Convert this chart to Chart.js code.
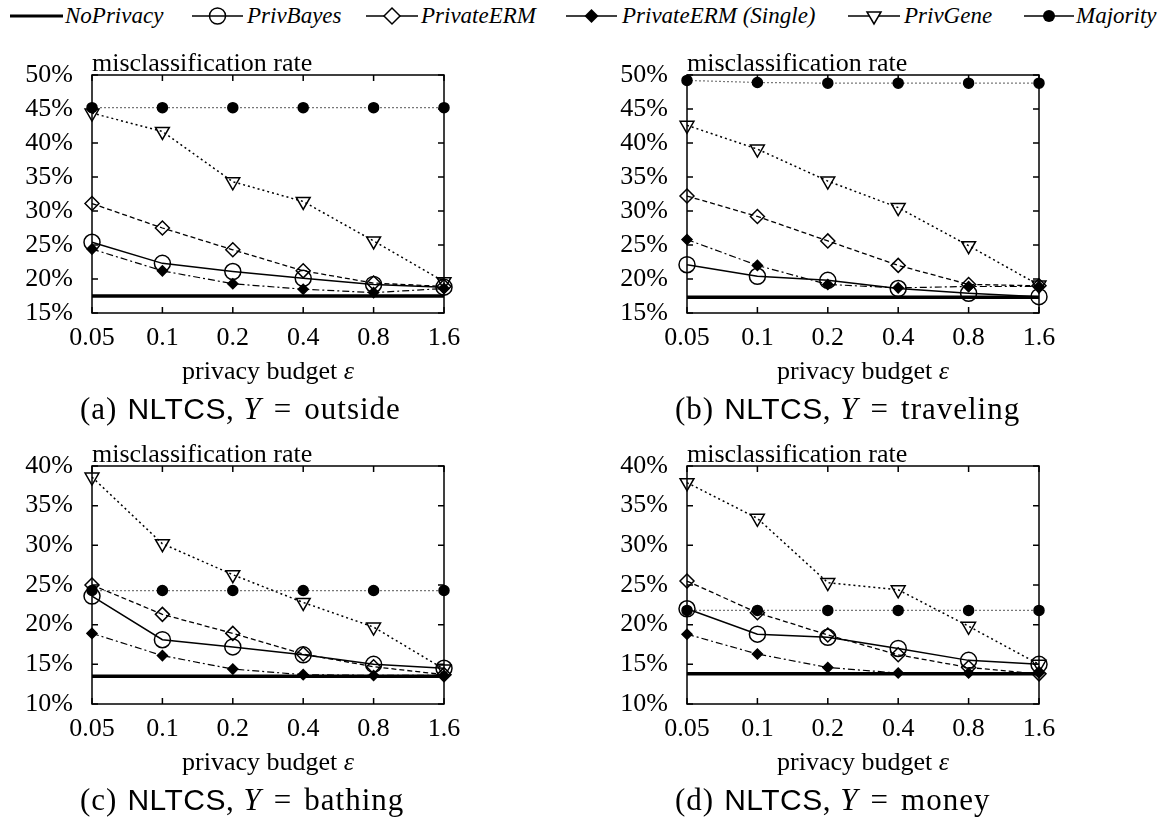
<!DOCTYPE html>
<html>
<head>
<meta charset="utf-8">
<script src="https://cdn.jsdelivr.net/npm/chart.js@4.4.1/dist/chart.umd.min.js"></script>
<style>
    body { margin: 0; background: #fff; width: 1176px; height: 822px; position: relative; overflow: hidden;
           font-family: "Liberation Serif", "Times New Roman", serif; color: #000; }
    canvas.panel { position: absolute; }
    .ytitle { position: absolute; font-size: 26px; line-height: 1; white-space: nowrap; }
    .xtitle { position: absolute; font-size: 26px; line-height: 1; width: 352px; text-align: center; white-space: nowrap; }
    .caption { position: absolute; font-size: 31px; line-height: 1; white-space: nowrap; letter-spacing: 1px; }
    .caption .sans { font-family: "Liberation Sans", sans-serif; font-size: 30px; letter-spacing: 0.5px; margin-left: 10px; }
    .caption .eq { margin: 0 12px; }
    .legend-text { position: absolute; top: 4px; font-size: 23px; font-style: italic; line-height: 1; white-space: nowrap; }
    .legend-icon { position: absolute; top: 0; }
</style>
</head>
<body>
<div id="legend"></div>

<script>
// x axis: privacy budget epsilon
const epsLabels = ['0.05', '0.1', '0.2', '0.4', '0.8', '1.6'];
const seriesNames = ['NoPrivacy', 'PrivBayes', 'PrivateERM', 'PrivateERM (Single)', 'PrivGene', 'Majority'];

// (a) Y = outside
const outsideNoPrivacy = [17.5, 17.5, 17.5, 17.5, 17.5, 17.5];
const outsidePrivBayes = [25.4, 22.3, 21.1, 20.1, 19.2, 18.8];
const outsidePrivateERM = [31.1, 27.5, 24.3, 21.2, 19.4, 18.9];
const outsideSingle = [24.4, 21.2, 19.3, 18.5, 18.0, 18.6];
const outsidePrivGene = [44.4, 41.7, 34.3, 31.4, 25.6, 19.6];
const outsideMajority = [45.2, 45.2, 45.2, 45.2, 45.2, 45.2];

// (b) Y = traveling
const travelingNoPrivacy = [17.3, 17.3, 17.3, 17.3, 17.3, 17.3];
const travelingPrivBayes = [22.1, 20.4, 19.8, 18.6, 17.9, 17.4];
const travelingPrivateERM = [32.2, 29.2, 25.6, 22.0, 19.2, 19.0];
const travelingSingle = [25.8, 22.0, 19.2, 18.7, 18.9, 18.9];
const travelingPrivGene = [42.6, 39.1, 34.4, 30.5, 24.9, 19.1];
const travelingMajority = [49.2, 48.9, 48.8, 48.8, 48.8, 48.8];

// (c) Y = bathing
const bathingNoPrivacy = [13.5, 13.5, 13.5, 13.5, 13.5, 13.5];
const bathingPrivBayes = [23.6, 18.1, 17.2, 16.2, 15.0, 14.5];
const bathingPrivateERM = [25.0, 21.3, 18.9, 16.3, 14.7, 13.7];
const bathingSingle = [18.9, 16.1, 14.4, 13.7, 13.6, 13.6];
const bathingPrivGene = [38.6, 30.2, 26.3, 22.8, 19.7, 14.4];
const bathingMajority = [24.3, 24.3, 24.3, 24.3, 24.3, 24.3];

// (d) Y = money
const moneyNoPrivacy = [13.8, 13.8, 13.8, 13.8, 13.8, 13.8];
const moneyPrivBayes = [22.0, 18.8, 18.4, 17.0, 15.5, 15.0];
const moneyPrivateERM = [25.5, 21.5, 18.7, 16.2, 14.6, 13.8];
const moneySingle = [18.8, 16.3, 14.6, 13.9, 13.9, 13.9];
const moneyPrivGene = [37.9, 33.4, 25.3, 24.4, 19.8, 15.0];
const moneyMajority = [21.8, 21.8, 21.8, 21.8, 21.8, 21.8];

const lineStyles = [
    { borderWidth: 3.5, borderDash: [], borderColor: '#000', pointRadius: 0, pointStyle: 'circle', fill: 'rgba(0,0,0,0)' },
    { borderWidth: 1.5, borderDash: [], borderColor: '#000', pointRadius: 8, pointStyle: 'circle', fill: 'rgba(0,0,0,0)' },
    { borderWidth: 1.3, borderDash: [5, 3], borderColor: '#000', pointRadius: 7, pointStyle: 'rectRot', fill: 'rgba(0,0,0,0)' },
    { borderWidth: 1.2, borderDash: [7, 3, 2, 3], borderColor: '#000', pointRadius: 5, pointStyle: 'rectRot', fill: '#000' },
    { borderWidth: 1.5, borderDash: [2, 3], borderColor: '#000', pointRadius: 8, pointStyle: 'triangle', rotation: 180, fill: 'rgba(0,0,0,0)' },
    { borderWidth: 1.2, borderDash: [2, 2], borderColor: '#777', pointRadius: 5, pointStyle: 'circle', fill: '#000' }
];

// box with inward tick marks on all four sides
const framePlugin = {
    id: 'frame',
    beforeDatasetsDraw(chart) {
        const { ctx, chartArea: a, scales } = chart;
        const tick = 6;
        ctx.save();
        ctx.strokeStyle = '#000';
        ctx.lineWidth = 1.5;
        ctx.strokeRect(a.left, a.top, a.right - a.left, a.bottom - a.top);
        ctx.beginPath();
        scales.x.ticks.forEach((t, i) => {
            const px = scales.x.getPixelForTick(i);
            ctx.moveTo(px, a.bottom); ctx.lineTo(px, a.bottom - tick);
            ctx.moveTo(px, a.top); ctx.lineTo(px, a.top + tick);
        });
        scales.y.ticks.forEach((t, i) => {
            const py = scales.y.getPixelForTick(i);
            ctx.moveTo(a.left, py); ctx.lineTo(a.left + tick, py);
            ctx.moveTo(a.right, py); ctx.lineTo(a.right - tick, py);
        });
        ctx.stroke();
        ctx.restore();
    }
};

function addText(cls, html, left, top) {
    const d = document.createElement('div');
    d.className = cls;
    d.innerHTML = html;
    d.style.left = left + 'px';
    d.style.top = top + 'px';
    document.body.appendChild(d);
}

function makePanel(left, top, series, yMin, yMax, caption) {
    const canvas = document.createElement('canvas');
    canvas.className = 'panel';
    canvas.width = 480;
    canvas.height = 320;
    canvas.style.left = left + 'px';
    canvas.style.top = top + 'px';
    document.body.appendChild(canvas);

    const datasets = series.map((data, i) => {
        const s = lineStyles[i];
        return {
            label: seriesNames[i],
            data: data,
            borderColor: s.borderColor,
            borderWidth: s.borderWidth,
            borderDash: s.borderDash,
            pointStyle: s.pointStyle,
            pointRadius: s.pointRadius,
            rotation: s.rotation || 0,
            pointBorderColor: '#000',
            pointBorderWidth: 1.5,
            pointBackgroundColor: s.fill,
            tension: 0,
            clip: false
        };
    });

    new Chart(canvas, {
        type: 'line',
        data: { labels: epsLabels, datasets: datasets },
        options: {
            responsive: false,
            animation: false,
            devicePixelRatio: 1,
            layout: { padding: { top: 35, right: 36, left: 0, bottom: 0 } },
            plugins: { legend: { display: false }, tooltip: { enabled: false } },
            scales: {
                x: {
                    type: 'category',
                    offset: false,
                    grid: { display: false, drawTicks: false },
                    border: { display: false },
                    ticks: { color: '#000', padding: 10, autoSkip: false, maxRotation: 0,
                             font: { family: 'Liberation Serif', size: 26 } },
                    afterFit: scale => { scale.height = 47; }
                },
                y: {
                    min: yMin,
                    max: yMax,
                    grid: { display: false, drawTicks: false },
                    border: { display: false },
                    ticks: {
                        stepSize: 5,
                        autoSkip: false,
                        color: '#000',
                        padding: 19,
                        font: { family: 'Liberation Serif', size: 26 },
                        callback: v => v + '%'
                    },
                    afterFit: scale => { scale.width = 92; }
                }
            }
        },
        plugins: [framePlugin]
    });

    addText('ytitle', 'misclassification rate', left + 92, top + 10);
    addText('xtitle', 'privacy budget <i>ε</i>', left + 92, top + 318);
    addText('caption', caption, left + 80, top + 353);
}

makePanel(0, 40,
    [outsideNoPrivacy, outsidePrivBayes, outsidePrivateERM, outsideSingle, outsidePrivGene, outsideMajority],
    15, 50, '(a)<span class="sans">NLTCS</span>, <i>Y</i><span class="eq">=</span>outside');
makePanel(595, 40,
    [travelingNoPrivacy, travelingPrivBayes, travelingPrivateERM, travelingSingle, travelingPrivGene, travelingMajority],
    15, 50, '(b)<span class="sans">NLTCS</span>, <i>Y</i><span class="eq">=</span>traveling');
makePanel(0, 431,
    [bathingNoPrivacy, bathingPrivBayes, bathingPrivateERM, bathingSingle, bathingPrivGene, bathingMajority],
    10, 40, '(c)<span class="sans">NLTCS</span>, <i>Y</i><span class="eq">=</span>bathing');
makePanel(595, 431,
    [moneyNoPrivacy, moneyPrivBayes, moneyPrivateERM, moneySingle, moneyPrivGene, moneyMajority],
    10, 40, '(d)<span class="sans">NLTCS</span>, <i>Y</i><span class="eq">=</span>money');

// legend row: line sample with marker, then the series name
const legendIcons = [
    { x: 10, w: 53 }, { x: 192, w: 51 }, { x: 366, w: 52 },
    { x: 566, w: 51 }, { x: 848, w: 52 }, { x: 1024, w: 50 }
];
const legendTextX = [65, 247, 421, 622, 904, 1076];

function markerSvg(i, cx, cy) {
    if (i === 1) return `<circle cx="${cx}" cy="${cy}" r="8" fill="none" stroke="#000" stroke-width="1.5"/>`;
    if (i === 2) return `<polygon points="${cx - 8},${cy} ${cx},${cy - 8} ${cx + 8},${cy} ${cx},${cy + 8}" fill="#fff" stroke="#000" stroke-width="1.5"/>`;
    if (i === 3) return `<polygon points="${cx - 7},${cy} ${cx},${cy - 7} ${cx + 7},${cy} ${cx},${cy + 7}" fill="#000"/>`;
    if (i === 4) return `<polygon points="${cx - 7},${cy - 4} ${cx + 7},${cy - 4} ${cx},${cy + 8}" fill="#fff" stroke="#000" stroke-width="1.5"/>`;
    if (i === 5) return `<circle cx="${cx}" cy="${cy}" r="6" fill="#000"/>`;
    return '';
}

const legend = document.getElementById('legend');
seriesNames.forEach((name, i) => {
    const { x, w } = legendIcons[i];
    const cy = 16;
    const svg = `<svg class="legend-icon" style="left:${x}px" width="${w}" height="34">
        <line x1="0" y1="${cy}" x2="${w}" y2="${cy}" stroke="#000" stroke-width="${i === 0 ? 3 : 1.3}"/>
        ${markerSvg(i, w / 2, cy)}</svg>`;
    legend.insertAdjacentHTML('beforeend', svg);
    legend.insertAdjacentHTML('beforeend', `<div class="legend-text" style="left:${legendTextX[i]}px">${name}</div>`);
});
</script>
</body>
</html>
